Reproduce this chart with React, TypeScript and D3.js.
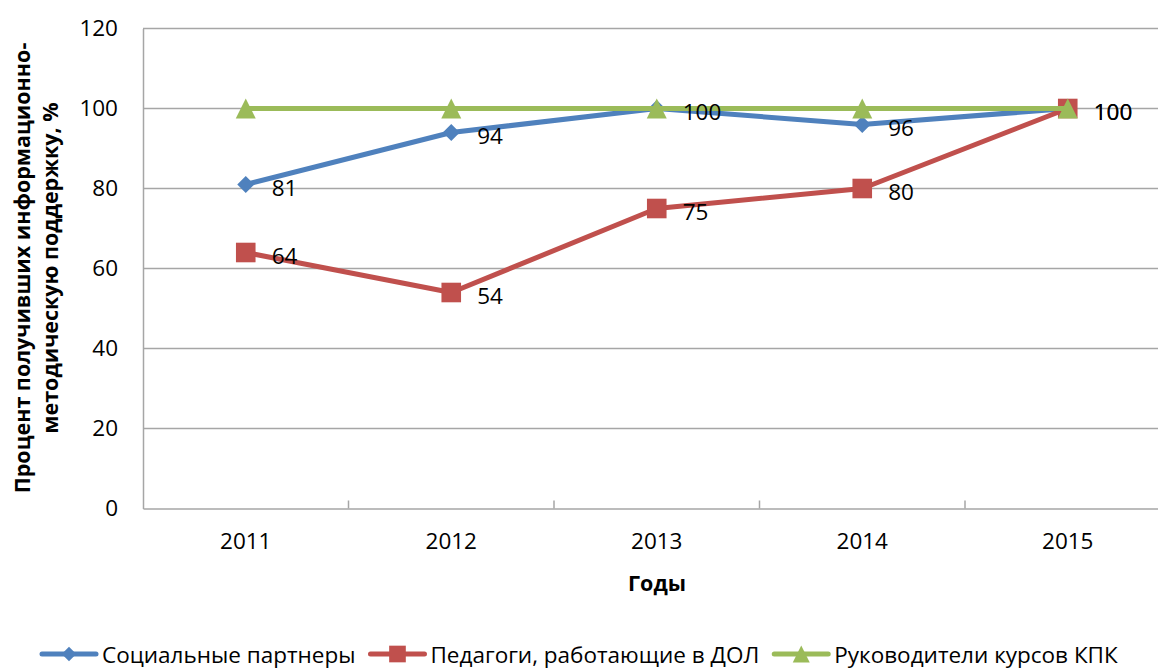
import { useEffect, useRef } from "react";
import * as d3 from "d3";

const years = ["2011", "2012", "2013", "2014", "2015"];
const partners = [81, 94, 100, 96, 100];
const teachers = [64, 54, 75, 80, 100];
const leaders = [100, 100, 100, 100, 100];
const yTicks = [0, 20, 40, 60, 80, 100, 120];

const seriesNames = [
  "Социальные партнеры",
  "Педагоги, работающие в ДОЛ",
  "Руководители курсов КПК",
];
const colors = ["#4F81BD", "#C0504D", "#9BBB59"];
const showLabels = [true, true, false];

const FONT = "'Open Sans', 'DejaVu Sans', sans-serif";

// marker shapes (Excel-like): diamond, square, tall triangle
function marker(kind: number, s: number): string {
  if (kind === 0) {
    const h = 8.5 * s;
    return `M0,${-h}L${h},0L0,${h}L${-h},0Z`;
  }
  if (kind === 1) {
    const h = 9.8 * s;
    return `M${-h},${-h}H${h}V${h}H${-h}Z`;
  }
  const w = 10 * s;
  const h = 10 * s;
  return `M0,${-h}L${w},${h}L${-w},${h}Z`;
}

export default function App() {
  const svgRef = useRef<SVGSVGElement>(null);

  useEffect(() => {
    if (!svgRef.current) return;
    const svg = d3.select(svgRef.current);
    svg.selectAll("*").remove();

    const left = 143;
    const top = 28.5;
    const bottom = 508.5;
    const right = 143 + 5 * 205.5;

    const x = d3.scaleBand().domain(years).range([left, right]);
    const y = d3.scaleLinear().domain([0, 120]).range([bottom, top]);

    // gridlines
    svg.append("g")
      .selectAll("line")
      .data(yTicks.filter((t) => t > 0))
      .enter()
      .append("line")
      .attr("x1", left)
      .attr("x2", right)
      .attr("y1", (d) => y(d))
      .attr("y2", (d) => y(d))
      .attr("stroke", "#a6a6a6")
      .attr("stroke-width", 1.5);

    // y axis
    const ya = svg.append("g").attr("transform", `translate(${left},0)`)
      .call(d3.axisLeft(y).tickValues(yTicks).tickSize(0).tickPadding(25));
    ya.select(".domain").attr("stroke", "#a6a6a6").attr("stroke-width", 1.5);
    ya.selectAll("text").attr("font-family", FONT).attr("font-size", "22.5px").attr("fill", "#000");

    // x axis
    const xa = svg.append("g").attr("transform", `translate(0,${bottom})`)
      .call(d3.axisBottom(x).tickSize(0).tickPadding(25));
    xa.select(".domain").attr("stroke", "#a6a6a6").attr("stroke-width", 1.5);
    xa.selectAll("text").attr("font-family", FONT).attr("font-size", "22.5px").attr("fill", "#000");
    // category boundary ticks (inside)
    svg.append("g")
      .selectAll("line")
      .data(years.slice(1))
      .enter()
      .append("line")
      .attr("x1", (d) => x(d)!)
      .attr("x2", (d) => x(d)!)
      .attr("y1", bottom)
      .attr("y2", bottom - 8)
      .attr("stroke", "#a6a6a6")
      .attr("stroke-width", 1.5);

    // axis titles
    svg.append("text")
      .attr("x", 657)
      .attr("y", 591)
      .attr("text-anchor", "middle")
      .attr("font-family", FONT)
      .attr("font-size", "21.5px")
      .attr("font-weight", "bold")
      .text("Годы");

    const yt = svg.append("text")
      .attr("transform", `translate(30,268) rotate(-90)`)
      .attr("text-anchor", "middle")
      .attr("font-family", FONT)
      .attr("font-size", "21.5px")
      .attr("font-weight", "bold");
    yt.append("tspan").attr("x", 0).attr("dy", 0).text("Процент получивших информационно-");
    yt.append("tspan").attr("x", 0).attr("dy", 28).text("методическую поддержку, %");

    const cx = (d: string) => x(d)! + x.bandwidth() / 2;
    const data = [partners, teachers, leaders];
    const line = d3.line<number>().x((_, i) => cx(years[i])).y((d) => y(d));

    data.forEach((vals, si) => {
      const g = svg.append("g");
      g.append("path")
        .attr("d", line(vals))
        .attr("fill", "none")
        .attr("stroke", colors[si])
        .attr("stroke-width", 5)
        .attr("stroke-linejoin", "round");
      g.selectAll("path.m")
        .data(vals)
        .enter()
        .append("path")
        .attr("class", "m")
        .attr("d", marker(si, 1))
        .attr("transform", (d, i) => `translate(${cx(years[i])},${y(d)})`)
        .attr("fill", colors[si]);
    });

    data.forEach((vals, si) => {
      if (!showLabels[si]) return;
      svg.append("g")
        .selectAll("text")
        .data(vals)
        .enter()
        .append("text")
        .attr("x", (d, i) => cx(years[i]) + 26)
        .attr("y", (d) => y(d) + 3)
        .attr("dominant-baseline", "central")
        .attr("font-family", FONT)
        .attr("font-size", "22.5px")
        .text((d) => String(d));
    });

    // legend
    const lg = svg.append("g");
    let lx = 40;
    const ly = 654;
    seriesNames.forEach((name, si) => {
      const item = lg.append("g");
      item.append("line")
        .attr("x1", lx + 2)
        .attr("x2", lx + 56)
        .attr("y1", ly)
        .attr("y2", ly)
        .attr("stroke", colors[si])
        .attr("stroke-width", 5)
        .attr("stroke-linecap", "round");
      item.append("path")
        .attr("d", marker(si, 0.85))
        .attr("transform", `translate(${lx + 29},${ly})`)
        .attr("fill", colors[si]);
      const t = item.append("text")
        .attr("x", lx + 62)
        .attr("y", ly)
        .attr("dominant-baseline", "central")
        .attr("font-family", FONT)
        .attr("font-size", "22.5px")
        .text(name);
      const w = (t.node() as SVGTextElement).getComputedTextLength();
      lx = lx + 62 + w + 13;
    });
  }, []);

  return (
    <svg
      ref={svgRef}
      width={1158}
      height={669}
      style={{ position: "absolute", left: 0, top: 0, background: "#fff" }}
    />
  );
}
